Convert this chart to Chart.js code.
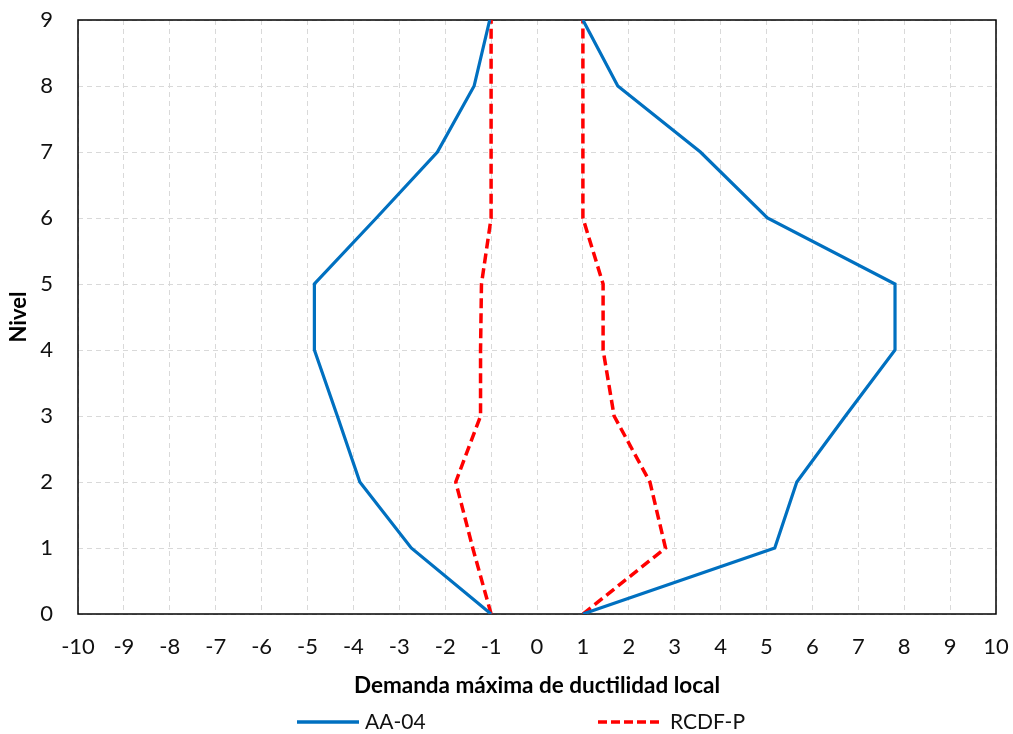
<!DOCTYPE html>
<html lang="es">
    <head>
        <meta charset="UTF-8" />
        <title>Demanda máxima de ductilidad local</title>
        <script src="https://cdn.jsdelivr.net/npm/chart.js"></script>
        <style>
            html,
            body {
                margin: 0;
                padding: 0;
                background: #fff;
            }
            #wrap {
                width: 1013px;
                height: 734px;
            }
        </style>
    </head>
    <body>
        <div id="wrap">
            <canvas id="ductChart" width="1013" height="734"></canvas>
        </div>
        <script>
            // niveles (eje vertical)
            const levels = [0, 1, 2, 3, 4, 5, 6, 7, 8, 9];
            // AA-04, lado negativo y positivo
            const aa04Left = [-1.0, -2.74, -3.86, -4.35, -4.85, -4.85, -3.5, -2.17, -1.37, -1.03];
            const aa04Right = [1.0, 5.18, 5.66, 6.72, 7.8, 7.8, 5.02, 3.56, 1.76, 1.0];
            // RCDF-P, lado negativo y positivo
            const rcdfLeft = [-1.0, -1.4, -1.77, -1.23, -1.23, -1.21, -1.0, -1.0, -1.0, -1.0];
            const rcdfRight = [1.0, 2.8, 2.46, 1.68, 1.44, 1.44, 1.0, 1.0, 1.0, 1.0];

            const seriesNames = ["AA-04", "RCDF-P"];
            const blue = "#0070C0";
            const red = "#FF0000";
            const font = "Lato";

            const toPoints = (xs) => xs.map((x, i) => ({ x: x, y: levels[i] }));

            const lineDs = (label, xs, color, dash) => ({
                label: label,
                data: toPoints(xs),
                showLine: true,
                borderColor: color,
                backgroundColor: color,
                borderWidth: dash ? 3.5 : 3.2,
                borderDash: dash || [],
                pointRadius: 0,
                tension: 0,
            });

            // marco del area de trazado
            const frame = {
                id: "frame",
                beforeDatasetsDraw(chart) {
                    const { ctx, chartArea: a } = chart;
                    ctx.save();
                    ctx.strokeStyle = "#000";
                    ctx.lineWidth = 1.5;
                    ctx.strokeRect(a.left, a.top, a.right - a.left, a.bottom - a.top);
                    ctx.restore();
                },
            };

            // leyenda abajo, como en la figura original
            const bottomLegend = {
                id: "bottomLegend",
                afterDraw(chart) {
                    const ctx = chart.ctx;
                    const y = 722;
                    const items = [
                        { text: seriesNames[0], color: blue, dash: [], x0: 297, x1: 359, tx: 365 },
                        { text: seriesNames[1], color: red, dash: [9, 4], x0: 598, x1: 663, tx: 670 },
                    ];
                    ctx.save();
                    items.forEach((it) => {
                        ctx.beginPath();
                        ctx.setLineDash(it.dash);
                        ctx.strokeStyle = it.color;
                        ctx.lineWidth = 3.5;
                        ctx.moveTo(it.x0, y);
                        ctx.lineTo(it.x1, y);
                        ctx.stroke();
                        ctx.setLineDash([]);
                        ctx.fillStyle = "#111";
                        ctx.font = "21px " + font;
                        ctx.textAlign = "left";
                        ctx.textBaseline = "middle";
                        ctx.fillText(it.text, it.tx, y);
                    });
                    ctx.restore();
                },
            };

            new Chart(document.getElementById("ductChart"), {
                type: "scatter",
                data: {
                    datasets: [
                        lineDs(seriesNames[0], aa04Left, blue),
                        lineDs(seriesNames[0], aa04Right, blue),
                        lineDs(seriesNames[1], rcdfLeft, red, [10, 5]),
                        lineDs(seriesNames[1], rcdfRight, red, [10, 5]),
                    ],
                },
                options: {
                    responsive: false,
                    animation: false,
                    layout: {
                        padding: { left: 0, right: 17, top: 20, bottom: 0 },
                    },
                    plugins: {
                        legend: { display: false },
                        tooltip: { enabled: false },
                    },
                    scales: {
                        x: {
                            type: "linear",
                            min: -10,
                            max: 10,
                            afterFit: (scale) => {
                                scale.height = 120;
                                scale.paddingLeft = 0;
                                scale.paddingRight = 0;
                            },
                            ticks: {
                                stepSize: 1,
                                padding: 20,
                                color: "#111",
                                font: { family: font, size: 22 },
                            },
                            grid: {
                                color: "#d9d9d9",
                                lineWidth: 1,
                                drawTicks: false,
                            },
                            border: { display: false, dash: [5, 4] },
                            title: {
                                display: true,
                                text: "Demanda máxima de ductilidad local",
                                color: "#000",
                                font: { family: font, size: 22.5, weight: "bold" },
                                padding: { top: 4, bottom: 35 },
                            },
                        },
                        y: {
                            type: "linear",
                            min: 0,
                            max: 9,
                            afterFit: (scale) => {
                                scale.width = 78;
                                scale.paddingTop = 0;
                                scale.paddingBottom = 0;
                            },
                            ticks: {
                                stepSize: 1,
                                padding: 25,
                                color: "#111",
                                font: { family: font, size: 22 },
                            },
                            grid: {
                                color: "#d9d9d9",
                                lineWidth: 1,
                                drawTicks: false,
                            },
                            border: { display: false, dash: [5, 4] },
                            title: {
                                display: true,
                                text: "Nivel",
                                color: "#000",
                                font: { family: font, size: 22, weight: "bold" },
                                padding: { top: 6, bottom: 0 },
                            },
                        },
                    },
                },
                plugins: [frame, bottomLegend],
            });
        </script>
    </body>
</html>
